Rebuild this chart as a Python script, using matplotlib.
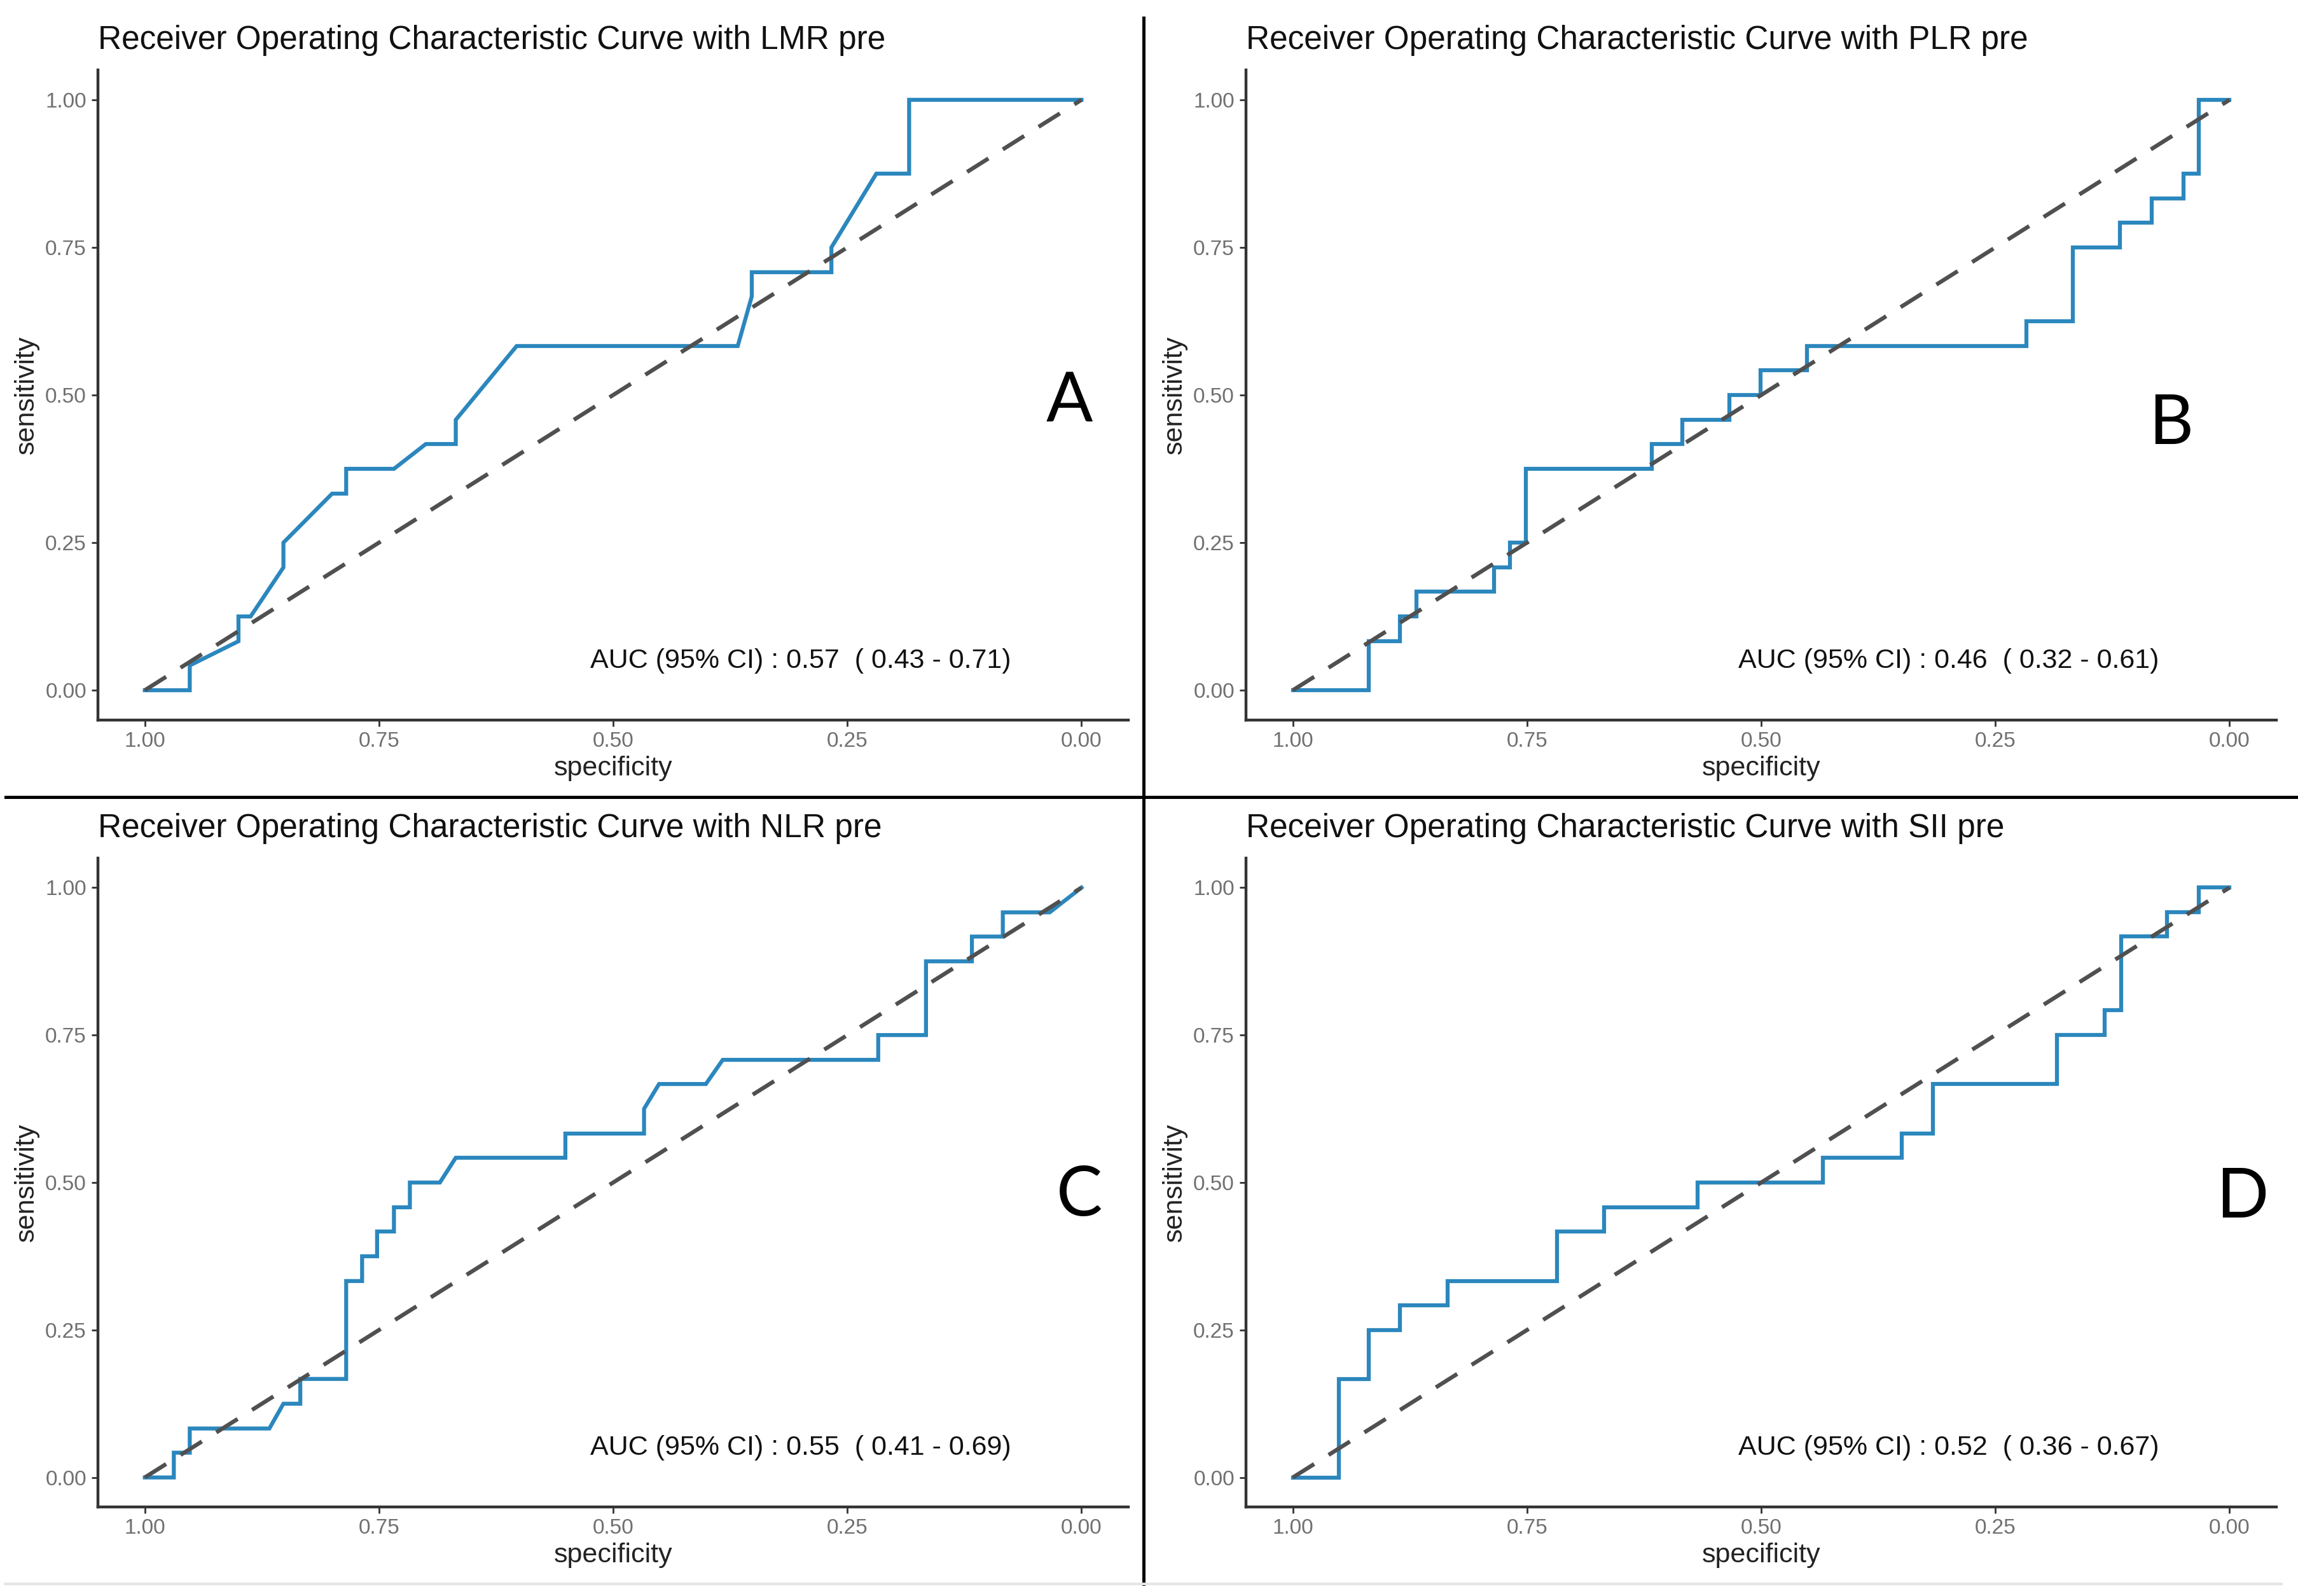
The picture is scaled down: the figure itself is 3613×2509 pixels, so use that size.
import matplotlib
matplotlib.use("Agg")
import matplotlib.pyplot as plt
from matplotlib.lines import Line2D

plt.rcParams['font.family'] = ['Liberation Sans', 'DejaVu Sans']

# datos (especificidad, sensibilidad)
lmr_spec = [1.00, 0.952, 0.952, 0.90, 0.90, 0.887, 0.852, 0.852, 0.80, 0.785, 0.785, 0.734, 0.70,
            0.668, 0.668, 0.603, 0.367, 0.352, 0.352, 0.267, 0.267, 0.219, 0.184, 0.184, 0.00]
lmr_sens = [0, 0, 0.042, 0.083, 0.125, 0.125, 0.208, 0.25, 0.333, 0.333, 0.375, 0.375, 0.417,
            0.417, 0.458, 0.583, 0.583, 0.667, 0.708, 0.708, 0.75, 0.875, 0.875, 1.0, 1.0]

plr_spec = [1.00, 0.919, 0.919, 0.886, 0.886, 0.868, 0.868, 0.785, 0.785, 0.768, 0.768, 0.751,
            0.751, 0.617, 0.617, 0.584, 0.584, 0.534, 0.534, 0.501, 0.501, 0.451, 0.451, 0.217,
            0.217, 0.167, 0.167, 0.117, 0.117, 0.083, 0.083, 0.049, 0.049, 0.033, 0.033, 0.00]
plr_sens = [0, 0, 0.083, 0.083, 0.125, 0.125, 0.167, 0.167, 0.208, 0.208, 0.25, 0.25, 0.375,
            0.375, 0.417, 0.417, 0.458, 0.458, 0.50, 0.50, 0.542, 0.542, 0.583, 0.583, 0.625,
            0.625, 0.75, 0.75, 0.792, 0.792, 0.833, 0.833, 0.875, 0.875, 1.0, 1.0]

nlr_spec = [1.00, 0.969, 0.969, 0.952, 0.952, 0.867, 0.852, 0.834, 0.834, 0.785, 0.785, 0.768,
            0.768, 0.752, 0.752, 0.734, 0.734, 0.717, 0.717, 0.685, 0.668, 0.551, 0.551, 0.467,
            0.467, 0.451, 0.401, 0.383, 0.217, 0.217, 0.166, 0.166, 0.117, 0.117, 0.084, 0.084,
            0.034, 0.00]
nlr_sens = [0, 0, 0.042, 0.042, 0.083, 0.083, 0.125, 0.125, 0.167, 0.167, 0.333, 0.333, 0.375,
            0.375, 0.417, 0.417, 0.458, 0.458, 0.50, 0.50, 0.542, 0.542, 0.583, 0.583, 0.625,
            0.667, 0.667, 0.708, 0.708, 0.75, 0.75, 0.875, 0.875, 0.917, 0.917, 0.958, 0.958, 1.0]

sii_spec = [1.00, 0.951, 0.951, 0.919, 0.919, 0.886, 0.886, 0.835, 0.835, 0.718, 0.718, 0.668,
            0.668, 0.568, 0.568, 0.434, 0.434, 0.350, 0.350, 0.317, 0.317, 0.184, 0.184, 0.133,
            0.133, 0.116, 0.116, 0.067, 0.067, 0.033, 0.033, 0.00]
sii_sens = [0, 0, 0.167, 0.167, 0.25, 0.25, 0.292, 0.292, 0.333, 0.333, 0.417, 0.417, 0.458,
            0.458, 0.50, 0.50, 0.542, 0.542, 0.583, 0.583, 0.667, 0.667, 0.75, 0.75, 0.792,
            0.792, 0.917, 0.917, 0.958, 0.958, 1.0, 1.0]

marcadores = ["LMR", "PLR", "NLR", "SII"]
letras = ["A", "B", "C", "D"]
auc = [0.57, 0.46, 0.55, 0.52]
ic_bajo = [0.43, 0.32, 0.41, 0.36]
ic_alto = [0.71, 0.61, 0.69, 0.67]
ticks = [1.00, 0.75, 0.50, 0.25, 0.00]
tick_labels = ["1.00", "0.75", "0.50", "0.25", "0.00"]

curvas = [(lmr_spec, lmr_sens), (plr_spec, plr_sens), (nlr_spec, nlr_sens), (sii_spec, sii_sens)]

W, H = 3613, 2509
fig = plt.figure(figsize=(W / 100, H / 100), dpi=100)

# posiciones de los paneles en pixeles (izq, arriba, der, abajo)
cajas = [(154, 110.5, 1774, 1131.5), (1959, 110.5, 3579, 1131.5),
         (154, 1349, 1774, 2369), (1959, 1349, 3579, 2369)]
# posicion de las letras en pixeles
pos_letras = [(1681, 632), (3413, 668), (1697, 1880), (3525, 1883)]

azul = '#2b87bd'
gris_txt = '#707070'
eje = '#333333'

for i in range(4):
    l, t, r, b = cajas[i]
    ax = fig.add_axes([l / W, 1 - b / H, (r - l) / W, (b - t) / H])
    spec, sens = curvas[i]
    ax.plot(spec, sens, color=azul, lw=4.5, solid_joinstyle='miter', zorder=2)
    ax.plot([1, 0], [0, 1], color='#505050', lw=4.6, linestyle=(0, (6.2, 4.2)), zorder=3)

    ax.set_xlim(1.05, -0.05)
    ax.set_ylim(-0.05, 1.05)
    ax.set_xticks(ticks)
    ax.set_xticklabels(tick_labels)
    ax.set_yticks(ticks)
    ax.set_yticklabels(tick_labels)
    ax.tick_params(labelsize=24, labelcolor=gris_txt, color=eje, length=7, width=2, pad=6)
    for s in ['top', 'right']:
        ax.spines[s].set_visible(False)
    for s in ['left', 'bottom']:
        ax.spines[s].set_linewidth(3.2)
        ax.spines[s].set_color(eje)

    ax.set_xlabel('specificity', fontsize=31, color='#222222', va='center')
    ax.xaxis.set_label_coords(0.5, -(1208 - 1131.5) / 1021)
    ax.set_ylabel('sensitivity', fontsize=31, color='#222222', va='center')
    ax.yaxis.set_label_coords(-(154 - 42) / 1620, 0.5)

    ax.set_title('Receiver Operating Characteristic Curve with ' + marcadores[i] + ' pre',
                 loc='left', fontsize=37, color='#111111', pad=24)

    texto = 'AUC (95%% CI) : %.2f  ( %.2f - %.2f)' % (auc[i], ic_bajo[i], ic_alto[i])
    ax.text(0.30, 0.05, texto, fontsize=31, color='#111111', ha='center', va='center')

    lx, ly = pos_letras[i]
    fig.text(lx / W, 1 - ly / H, letras[i], fontsize=78, family='Lato',
             ha='center', va='center', color='black')

# lineas divisorias
fig.add_artist(Line2D([1798 / W, 1798 / W], [1 - 28 / H, 1 - 2490 / H], color='black', lw=3.6,
                      transform=fig.transFigure))
fig.add_artist(Line2D([9 / W, 1], [1 - 1253 / H, 1 - 1253 / H], color='black', lw=3.6,
                      transform=fig.transFigure))
fig.add_artist(Line2D([8 / W, 3587 / W], [1 - 2490 / H, 1 - 2490 / H], color='#e6e6e6', lw=3,
                      transform=fig.transFigure))

fig.savefig('out.png', dpi=100)
